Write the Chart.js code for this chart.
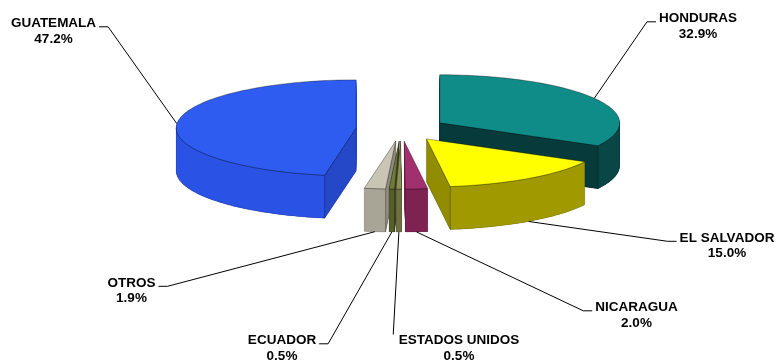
<!DOCTYPE html>
<html>
<head>
<meta charset="utf-8">
<script src="https://cdn.jsdelivr.net/npm/chart.js@4/dist/chart.umd.min.js"></script>
<style>
  html, body { margin: 0; padding: 0; background: #fff; }
  canvas { display: block; }
</style>
</head>
<body>
<canvas id="pie" width="776" height="360"></canvas>
<script>
// data
const countries = ['HONDURAS', 'EL SALVADOR', 'NICARAGUA', 'ESTADOS UNIDOS', 'ECUADOR', 'OTROS', 'GUATEMALA'];
const shares = [32.9, 15.0, 2.0, 0.5, 0.5, 1.9, 47.2];

// colours: top face, outer side, cut wall
const topColors  = ['#0f8c88', '#ffff00', '#a3306e', '#8c9158', '#6f7a3c', '#c9c5b5', '#2f5cf0'];
const sideColors = ['#0a4646', '#a09a00', '#7e2252', '#6d7040', '#565e2c', '#a9a596', '#2a53e6'];
const wallColors = ['#073a3a', '#928c00', '#6a1c44', '#5a5e34', '#464c22', '#8f8b7e', '#2448c8'];

// label boxes: centre x, middle of first line (cap height), where the leader leaves
const labelPos = [
  { x: 698, y: 17.5, side: 'l' },
  { x: 727, y: 237, side: 'l' },
  { x: 636.5, y: 306.5, side: 'l' },
  { x: 459, y: 339.5, side: 't' },
  { x: 282, y: 339.5, side: 'r' },
  { x: 131.5, y: 282, side: 'r' },
  { x: 53.5, y: 22.5, side: 'r' }
];

// 3d look
const CX = 401, CY = 129, RADIUS = 180, TILT = 0.267, DEPTH = 43;

function geom(chart) {
  const arcs = chart.getDatasetMeta(0).data;
  const ex = arcs[0].x, ey = arcs[0].y;
  const s = RADIUS / arcs[0].outerRadius;
  // chart coords -> screen
  const P = (x, y, d) => [CX + (x - ex) * s, CY + (y - ey) * s * TILT + (d || 0)];
  return arcs.map((a, i) => {
    const half = (a.startAngle + a.endAngle) / 2;
    const off = a.options.offset || 0;
    const ax = a.x + Math.cos(half) * off, ay = a.y + Math.sin(half) * off;
    return { i, a, ax, ay, R: a.outerRadius, half, P, sy: P(ax, ay)[1] };
  });
}

function arcPath(ctx, g, d) {
  const { a, ax, ay, R, P } = g;
  const n = Math.max(4, Math.ceil((a.endAngle - a.startAngle) * 40));
  ctx.beginPath();
  let p = P(ax, ay, d);
  ctx.moveTo(p[0], p[1]);
  for (let k = 0; k <= n; k++) {
    const t = a.startAngle + (a.endAngle - a.startAngle) * k / n;
    p = P(ax + Math.cos(t) * R, ay + Math.sin(t) * R, d);
    ctx.lineTo(p[0], p[1]);
  }
  ctx.closePath();
}

function rimPath(ctx, g) {
  // outer curved side, only the part facing us
  const { a, ax, ay, R, P } = g;
  const n = Math.max(4, Math.ceil((a.endAngle - a.startAngle) * 40));
  const vis = [];
  for (let k = 0; k <= n; k++) {
    const t = a.startAngle + (a.endAngle - a.startAngle) * k / n;
    if (Math.sin(t) >= -0.02) vis.push(t);
  }
  if (vis.length < 2) return false;
  ctx.beginPath();
  vis.forEach((t, k) => {
    const p = P(ax + Math.cos(t) * R, ay + Math.sin(t) * R, 0);
    k ? ctx.lineTo(p[0], p[1]) : ctx.moveTo(p[0], p[1]);
  });
  for (let k = vis.length - 1; k >= 0; k--) {
    const t = vis[k];
    const p = P(ax + Math.cos(t) * R, ay + Math.sin(t) * R, DEPTH);
    ctx.lineTo(p[0], p[1]);
  }
  ctx.closePath();
  return true;
}

function wallPath(ctx, g, t) {
  const { ax, ay, R, P } = g;
  const ox = ax + Math.cos(t) * R, oy = ay + Math.sin(t) * R;
  const pts = [P(ax, ay, 0), P(ox, oy, 0), P(ox, oy, DEPTH), P(ax, ay, DEPTH)];
  ctx.beginPath();
  pts.forEach((p, k) => k ? ctx.lineTo(p[0], p[1]) : ctx.moveTo(p[0], p[1]));
  ctx.closePath();
}

const pie3d = {
  id: 'pie3d',
  beforeDatasetsDraw(chart) {
    const ctx = chart.ctx;
    const list = geom(chart).sort((p, q) => p.sy - q.sy);
    ctx.save();
    list.forEach(g => {
      const i = g.i;
      // body
      ctx.fillStyle = sideColors[i];
      for (let d = DEPTH; d > 0; d -= 1) {
        arcPath(ctx, g, d);
        ctx.fill();
      }
      // curved side
      if (rimPath(ctx, g)) {
        ctx.fillStyle = sideColors[i];
        ctx.fill();
        ctx.strokeStyle = 'rgba(0,0,0,0.25)';
        ctx.lineWidth = 0.6;
        ctx.stroke();
      }
      // cut walls facing the viewer
      const walls = [[g.a.startAngle, g.a.startAngle - Math.PI / 2], [g.a.endAngle, g.a.endAngle + Math.PI / 2]];
      walls.forEach(([t, nrm]) => {
        if (Math.sin(nrm) > 0.02) {
          wallPath(ctx, g, t);
          ctx.fillStyle = wallColors[i];
          ctx.fill();
          ctx.strokeStyle = 'rgba(0,0,0,0.35)';
          ctx.lineWidth = 0.6;
          ctx.stroke();
        }
      });
      // top
      arcPath(ctx, g, 0);
      ctx.fillStyle = topColors[i];
      ctx.fill();
      ctx.strokeStyle = 'rgba(0,0,0,0.5)';
      ctx.lineWidth = 0.7;
      ctx.stroke();
    });
    ctx.restore();
    return false;
  },
  afterDraw(chart) {
    const ctx = chart.ctx;
    const gs = geom(chart);
    ctx.save();
    ctx.font = 'bold 13.5px "Liberation Sans", Arial, sans-serif';
    ctx.fillStyle = '#000';
    ctx.strokeStyle = '#000';
    ctx.lineWidth = 1;
    ctx.textAlign = 'center';
    ctx.textBaseline = 'alphabetic';
    gs.forEach(g => {
      const i = g.i, lp = labelPos[i];
      const name = countries[i];
      const pct = shares[i].toFixed(1) + '%';
      const base = lp.y + 4.8;
      ctx.fillText(name, lp.x, base);
      ctx.fillText(pct, lp.x, base + 15.5);
      const w = ctx.measureText(name).width;
      // leader target on the slice rim at mid angle
      const front = Math.sin(g.half) > 0;
      const tp = g.P(g.ax + Math.cos(g.half) * g.R, g.ay + Math.sin(g.half) * g.R, front ? DEPTH : 0);
      ctx.beginPath();
      if (lp.side === 'r') {
        const x0 = lp.x + w / 2 + 3;
        ctx.moveTo(x0, base - 0.5);
        ctx.lineTo(x0 + 9, base - 0.5);
      } else if (lp.side === 'l') {
        const x0 = lp.x - w / 2 - 3;
        ctx.moveTo(x0, base - 0.5);
        ctx.lineTo(x0 - 9, base - 0.5);
      } else {
        ctx.moveTo(lp.x - w / 2 - 5.5, lp.y - 5);
      }
      ctx.lineTo(tp[0], tp[1]);
      ctx.stroke();
    });
    ctx.restore();
  }
};

new Chart(document.getElementById('pie'), {
  type: 'pie',
  data: {
    labels: countries,
    datasets: [{
      data: shares,
      backgroundColor: topColors,
      borderWidth: 0,
      offset: 40
    }]
  },
  options: {
    responsive: false,
    animation: false,
    layout: { padding: 0 },
    plugins: {
      legend: { display: false },
      tooltip: { enabled: false }
    }
  },
  plugins: [pie3d]
});
</script>
</body>
</html>
